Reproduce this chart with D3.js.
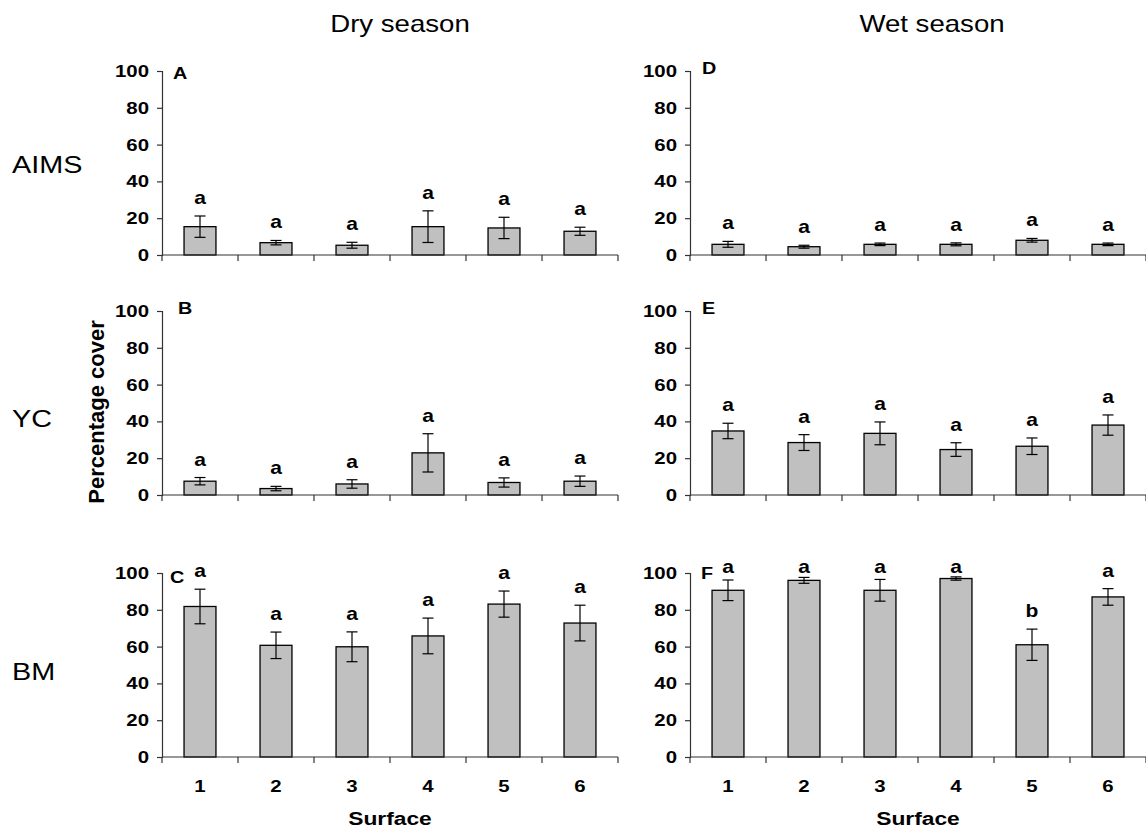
<!DOCTYPE html>
<html>
<head>
<meta charset="utf-8">
<script src="https://cdn.jsdelivr.net/npm/d3@7"></script>
<style>
  body { margin: 0; background: #fff; }
  svg { display: block; font-family: Arial, "Liberation Sans", sans-serif; }
</style>
</head>
<body>
<script>
// Percentage cover by surface, dry vs wet season, three sites

var w = 1146;
var h = 832;
var stretch = 1.2; // text in the original is a little wide

var surfaces = [1, 2, 3, 4, 5, 6];
var yTicks = [0, 20, 40, 60, 80, 100];
var seasons = ["Dry season", "Wet season"];
var sites = ["AIMS", "YC", "BM"];
var panelLetters = [["A", "B", "C"], ["D", "E", "F"]];

// means and error (+/-)
var dryAIMS = [15.4, 6.7, 5.3, 15.4, 14.7, 12.9];
var dryAIMSErr = [5.8, 1.2, 1.6, 8.6, 5.8, 2.2];
var dryYC = [7.5, 3.5, 6.0, 22.9, 6.8, 7.5];
var dryYCErr = [2.0, 1.2, 2.3, 10.4, 2.5, 2.8];
var dryBM = [81.8, 60.7, 59.9, 65.8, 83.1, 72.8];
var dryBMErr = [9.4, 7.2, 8.1, 9.7, 7.1, 9.7];
var wetAIMS = [5.8, 4.5, 5.8, 5.8, 8.0, 5.8];
var wetAIMSErr = [1.6, 0.8, 0.7, 0.8, 1.0, 0.7];
var wetYC = [34.8, 28.5, 33.5, 24.7, 26.5, 38.0];
var wetYCErr = [4.2, 4.3, 6.2, 3.7, 4.5, 5.5];
var wetBM = [90.6, 96.0, 90.6, 97.0, 61.0, 87.0];
var wetBMErr = [5.6, 1.6, 5.9, 0.9, 8.5, 4.5];

// significance letters
var dryAIMSSig = ["a", "a", "a", "a", "a", "a"];
var dryYCSig = ["a", "a", "a", "a", "a", "a"];
var dryBMSig = ["a", "a", "a", "a", "a", "a"];
var wetAIMSSig = ["a", "a", "a", "a", "a", "a"];
var wetYCSig = ["a", "a", "a", "a", "a", "a"];
var wetBMSig = ["a", "a", "a", "a", "b", "a"];

var panels = [
  { col: 0, row: 0, values: dryAIMS, err: dryAIMSErr, sig: dryAIMSSig },
  { col: 0, row: 1, values: dryYC, err: dryYCErr, sig: dryYCSig },
  { col: 0, row: 2, values: dryBM, err: dryBMErr, sig: dryBMSig },
  { col: 1, row: 0, values: wetAIMS, err: wetAIMSErr, sig: wetAIMSSig },
  { col: 1, row: 1, values: wetYC, err: wetYCErr, sig: wetYCSig },
  { col: 1, row: 2, values: wetBM, err: wetBMErr, sig: wetBMSig }
];

// layout
var colX = [162, 690];
var rowY = [71, 311, 573];
var pw = 456;
var ph = 184;
// offset of the panel letter from the top of each y axis
var letterOffset = [[[11, 8], [16, 3], [8, 10]], [[12, 3], [12, 3], [11, 6]]];

var svg = d3.select("body")
  .append("svg")
  .attr("width", w)
  .attr("height", h);

// text helper, applies the horizontal stretch
function label(x, y, str, size, weight, anchor) {
  return svg.append("text")
    .attr("transform", "translate(" + x + "," + y + ") scale(" + stretch + ",1)")
    .attr("text-anchor", anchor || "middle")
    .attr("font-size", size + "px")
    .attr("font-weight", weight || "normal")
    .attr("fill", "#000")
    .text(str);
}

var x = d3.scaleBand()
  .domain(surfaces)
  .range([0, pw])
  .paddingInner(0.58)
  .paddingOuter(0.29);

var y = d3.scaleLinear()
  .domain([0, 100])
  .range([ph, 0]);

panels.forEach(function(p) {
  var g = svg.append("g")
    .attr("transform", "translate(" + colX[p.col] + "," + rowY[p.row] + ")");

  var data = surfaces.map(function(s, i) {
    return { s: s, v: p.values[i], e: p.err[i], sig: p.sig[i] };
  });

  //bars
  g.selectAll("rect")
    .data(data)
    .enter()
    .append("rect")
    .attr("x", function(d) { return x(d.s); })
    .attr("y", function(d) { return y(d.v); })
    .attr("width", x.bandwidth())
    .attr("height", function(d) { return ph - y(d.v); })
    .attr("fill", "#c0c0c0")
    .attr("stroke", "#000")
    .attr("stroke-width", 1.3);

  //error bars
  var eb = g.selectAll("g.err")
    .data(data)
    .enter()
    .append("g")
    .attr("class", "err")
    .attr("transform", function(d) { return "translate(" + (x(d.s) + x.bandwidth() / 2) + ",0)"; })
    .attr("stroke", "#000")
    .attr("stroke-width", 1.2);
  eb.append("line")
    .attr("y1", function(d) { return y(d.v + d.e); })
    .attr("y2", function(d) { return y(d.v - d.e); });
  eb.append("line")
    .attr("x1", -5.5).attr("x2", 5.5)
    .attr("y1", function(d) { return y(d.v + d.e); })
    .attr("y2", function(d) { return y(d.v + d.e); });
  eb.append("line")
    .attr("x1", -5.5).attr("x2", 5.5)
    .attr("y1", function(d) { return y(d.v - d.e); })
    .attr("y2", function(d) { return y(d.v - d.e); });

  //y axis
  var ya = g.append("g")
    .call(d3.axisLeft(y).tickValues(yTicks).tickSize(5));
  ya.select(".domain").attr("stroke", "#333").attr("stroke-width", 1.2);
  ya.selectAll(".tick line").attr("stroke", "#333").attr("stroke-width", 1.2);
  ya.selectAll("text")
    .attr("font-size", "17px")
    .attr("font-weight", "bold")
    .attr("font-family", "Arial, 'Liberation Sans', sans-serif")
    .attr("fill", "#000")
    .attr("transform", "scale(" + stretch + ",1)")
    .attr("x", -13 / stretch);

  //x axis line + ticks at the bin edges
  g.append("line")
    .attr("x1", 0).attr("x2", pw)
    .attr("y1", ph).attr("y2", ph)
    .attr("stroke", "#333").attr("stroke-width", 1.2);
  g.selectAll("line.xt")
    .data(d3.range(surfaces.length + 1))
    .enter()
    .append("line")
    .attr("class", "xt")
    .attr("x1", function(i) { return i * x.step(); })
    .attr("x2", function(i) { return i * x.step(); })
    .attr("y1", ph).attr("y2", ph + 6)
    .attr("stroke", "#333").attr("stroke-width", 1.2);

  //significance letters above the error bars
  data.forEach(function(d) {
    var ly = Math.max(y(d.v + d.e) - 12, 0);
    label(colX[p.col] + x(d.s) + x.bandwidth() / 2, rowY[p.row] + ly, d.sig, 17.5, "bold");
  });

  //panel letter
  var lo = letterOffset[p.col][p.row];
  label(colX[p.col] + lo[0], rowY[p.row] + lo[1], panelLetters[p.col][p.row], 16.5, "bold", "start");

  //surface numbers on the bottom row only
  if (p.row == 2) {
    surfaces.forEach(function(s) {
      label(colX[p.col] + x(s) + x.bandwidth() / 2, rowY[p.row] + ph + 35, s, 17, "bold");
    });
    label(colX[p.col] + pw / 2, rowY[p.row] + ph + 68, "Surface", 19, "bold");
  }
});

//season titles
label(400, 32, seasons[0], 23);
label(932, 32, seasons[1], 23);

//site labels
var siteY = [173, 427, 680];
sites.forEach(function(s, i) {
  label(12, siteY[i], s, 24, "normal", "start");
});

//y title
svg.append("text")
  .attr("transform", "translate(104,412) rotate(-90)")
  .attr("text-anchor", "middle")
  .attr("font-size", "22px")
  .attr("font-weight", "bold")
  .text("Percentage cover");
</script>
</body>
</html>
